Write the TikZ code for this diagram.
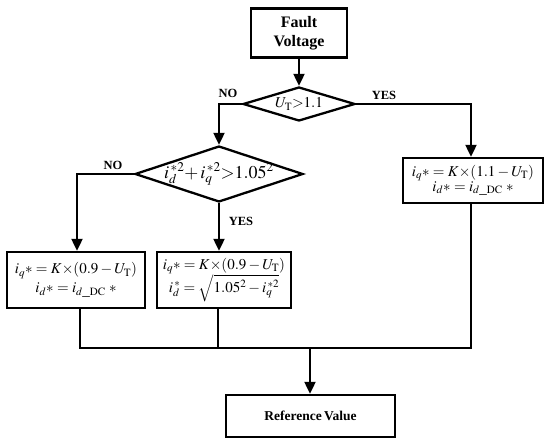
\documentclass[tikz,border=0pt]{standalone}
\usepackage{mathptmx}
\usepackage{fontspec}
\setmainfont{Liberation Serif}
\usetikzlibrary{shapes.geometric,arrows.meta}
\begin{document}
\begin{tikzpicture}[x=1pt,y=-1pt,
  line width=2pt,
  box/.style={draw,line width=2.3pt,rectangle,inner sep=0pt,align=center},
  dia/.style={draw,line width=2.3pt,diamond,inner sep=0pt},
  arr/.style={-{Triangle[width=11pt,length=12pt]}},
  lab/.style={font=\fontsize{12.5}{14}\selectfont\bfseries},
  mth/.style={font=\fontsize{15}{17}\selectfont}]
\useasboundingbox (0,0) rectangle (550,446);
\node[box,minimum width=96pt,minimum height=49pt,font=\fontsize{16}{19}\selectfont\bfseries] (fault) at (299,33) {Fault\\Voltage};
\node[dia,minimum width=112pt,minimum height=34pt,mth] (d1) at (299,104) {\makebox[0pt]{$U_{\mathrm{T}}{>}1.1$}};
\node[dia,minimum width=168pt,minimum height=56pt,font=\fontsize{18}{20}\selectfont] (d2) at (219,174) {\makebox[0pt]{$i_d^{\,*2}{+}\,i_q^{\,*2}{>}1.05^2$}};
\node[box,minimum width=140pt,minimum height=45pt,mth] (rb) at (473,180.5) {$i_q{*}=K{\times}(1.1-U_{\mathrm{T}})$\\[-2pt]$i_d{*}=i_{d\_\mathrm{DC}}\;{*}$};
\node[box,minimum width=138pt,minimum height=56pt,mth] (lb) at (76,280) {$i_q{*}=K{\times}(0.9-U_{\mathrm{T}})$\\[2pt]$i_d{*}=i_{d\_\mathrm{DC}}\;{*}$};
\node[box,minimum width=134pt,minimum height=56pt,mth] (mb) at (224,280) {$i_q{*}=K{\times}(0.9-U_{\mathrm{T}})$\\[0pt]$i_d^{\,*}=\sqrt{1.05^2-i_q^{\,*2}}$};
\node[box,minimum width=169pt,minimum height=42pt,font=\fontsize{13.5}{15}\selectfont\bfseries] (ref) at (310.5,416) {Reference\,Value};
\coordinate (j) at (310,348);
\draw[arr] (fault.south) -- (d1.north);
\draw[arr] (d1.west) -| (d2.north);
\draw[arr] (d1.east) -| ([xshift=-2pt]rb.north);
\draw[arr] (d2.west) -| ([xshift=1pt]lb.north);
\draw[arr] (d2.south) -- (d2.south |- mb.north);
\draw ([xshift=4pt]lb.south) |- ([xshift=-2pt]rb.south |- j) -- ([xshift=-2pt]rb.south);
\draw ([xshift=-6pt]mb.south) -- ([xshift=-6pt]mb.south |- j);
\draw[arr] (j) -- (j |- ref.north);
\node[lab] (no1) at (228,93) {NO};
\node[lab] (yes1) at (384,95) {YES};
\node[lab] (no2) at (113,165) {NO};
\node[lab] (yes2) at (241,221) {YES};
\end{tikzpicture}
\end{document}
